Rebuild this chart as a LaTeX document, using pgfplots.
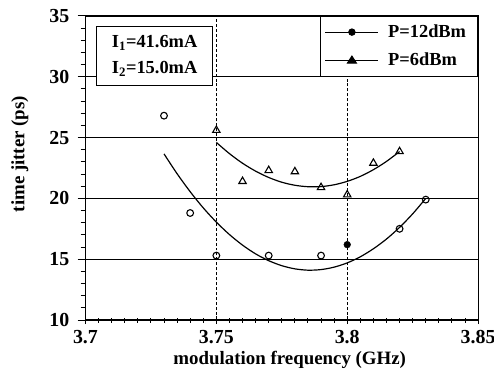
\documentclass[border=0pt]{standalone}
\usepackage{fontspec}
\setmainfont{Liberation Serif}
\usepackage{pgfplots}
\pgfplotsset{compat=1.18}

\begin{document}
\fontsize{18.5}{21}\selectfont\bfseries
\begin{tikzpicture}
\begin{axis}[name=ax, scale only axis, width=395pt, height=306pt,
  xmin=3.7, xmax=3.85, ymin=10, ymax=35,
  xtick={3.7,3.75,3.8,3.85}, xticklabels={3.7,3.75,3.8,3.85},
  ytick={10,15,20,25,30,35},
  minor x tick num=9, minor y tick num=4,
  tick pos=left, xtick align=center, ytick align=outside,
  major tick length=8pt, minor tick length=5pt,
  every tick/.style={black, line width=1pt},
  /pgf/number format/assume math mode=true,
  ticklabel style={font=\fontsize{20}{22}\selectfont\bfseries},
  yticklabel style={xshift=-2pt},
  axis line style={line width=1.2pt},
  xmajorgrids, ymajorgrids,
  y grid style={black, line width=0.9pt},
  x grid style={black, densely dashed, line width=0.9pt},
  xlabel={modulation frequency (GHz)},
  ylabel={time jitter (ps)},
  label style={font=\fontsize{19}{21}\selectfont\bfseries},
  xlabel style={at={(rel axis cs:0.5,0)}, anchor=center, yshift=-40pt, xshift=8pt},
  ylabel style={at={(rel axis cs:0,0.5)}, anchor=center, yshift=66pt, xshift=14pt},
  legend style={at={(1,1)}, anchor=north east, draw=black, line width=1pt,
    font=\fontsize{18.5}{21}\selectfont\bfseries, row sep=9pt, column sep=8pt, inner xsep=4pt, inner ysep=6pt},
  legend cell align=left,
]
\addlegendimage{legend image code/.code={\draw[black, line width=0.9pt] (0pt,0pt) -- (53pt,0pt); \fill[black] (27pt,0pt) circle (3.2pt);}}
\addlegendentry{\makebox[84pt][l]{P=12dBm}}
\addlegendimage{legend image code/.code={\draw[black, line width=0.9pt] (0pt,0pt) -- (53pt,0pt); \fill[black] (22.5pt,-2.5pt) -- (31.5pt,-2.5pt) -- (27pt,4.5pt) -- cycle;}}
\addlegendentry{\makebox[84pt][l]{P=6dBm}}

% fitted curves
\addplot[black, line width=1.2pt, smooth, forget plot] coordinates {
(3.730,23.66) (3.735,22.03) (3.740,20.55) (3.745,19.22) (3.750,18.05)
(3.755,17.03) (3.760,16.16) (3.765,15.44) (3.770,14.88) (3.775,14.47)
(3.780,14.21) (3.785,14.10) (3.790,14.15) (3.795,14.35) (3.800,14.70)
(3.805,15.20) (3.810,15.86) (3.815,16.66) (3.820,17.62) (3.825,18.73)
(3.830,20.00)};
\addplot[black, line width=1.2pt, smooth, forget plot] coordinates {
(3.750,24.60) (3.755,23.68) (3.760,22.89) (3.765,22.24) (3.770,21.72)
(3.775,21.33) (3.780,21.08) (3.785,20.96) (3.790,20.97) (3.795,21.12)
(3.800,21.40) (3.805,21.81) (3.810,22.36) (3.815,23.04) (3.820,23.85)};

% P=12dBm data
\addplot[only marks, mark=o, mark size=3.4pt, black, line width=1.1pt, forget plot] coordinates {
(3.73,26.8) (3.74,18.8) (3.75,15.3) (3.77,15.3) (3.79,15.3) (3.82,17.5) (3.83,19.9)};
\addplot[only marks, mark=*, mark size=3.4pt, black, forget plot] coordinates {(3.80,16.2)};
% P=6dBm data
\addplot[only marks, mark=triangle, mark size=4.3pt, black, line width=1.1pt, forget plot] coordinates {
(3.75,25.6) (3.76,21.4) (3.77,22.3) (3.78,22.2) (3.79,20.9) (3.80,20.3) (3.81,22.9) (3.82,23.85)};

\node[draw, line width=1pt, anchor=north west, align=center, minimum width=116pt, minimum height=59pt, fill=white,
  font=\fontsize{18.5}{21}\selectfont\bfseries]
  at (rel axis cs:0.028,0.967) {I\textsubscript{1}=41.6mA\\[5pt]I\textsubscript{2}=15.0mA};
\end{axis}
\pgfresetboundingbox
\path ([shift={(-86pt,-59pt)}]ax.south west) rectangle ([shift={(16pt,16pt)}]ax.north east);
\end{tikzpicture}
\end{document}
